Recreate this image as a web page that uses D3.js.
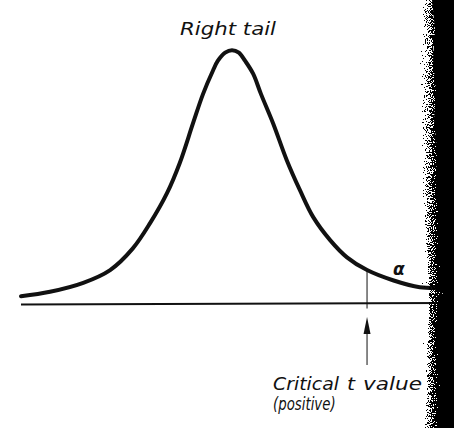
<!DOCTYPE html>
<html>
<head>
<meta charset="utf-8">
<script src="https://cdn.jsdelivr.net/npm/d3@7"></script>
<style>
  body { margin: 0; background: #fff; }
  text { font-family: "DejaVu Sans", sans-serif; font-style: italic; fill: #111; }
</style>
</head>
<body>
<div id="chart"></div>
<script>
const width = 454, height = 428;

// curve: t value and density height
const tValues = [-4.0, -3.45, -2.82, -2.31, -1.88, -1.55, -1.23, -0.99, -0.74, -0.55, -0.36, -0.27, -0.13, 0,
	0.13, 0.25, 0.40, 0.55, 0.78, 1.04, 1.29, 1.54, 1.86, 2.18, 2.56, 3.05, 3.56, 3.98];
const density = [0.013, 0.020, 0.034, 0.054, 0.088, 0.128, 0.175, 0.222, 0.284, 0.330, 0.367, 0.382, 0.395, 0.399,
	0.395, 0.382, 0.362, 0.330, 0.284, 0.226, 0.179, 0.137, 0.101, 0.074, 0.054, 0.038, 0.027, 0.026];
const criticalT = 2.56;
const criticalDensity = 0.054;
const labels = ["Right tail", "Critical t value", "(positive)", "α"];

// scanned page edge on the right (y, x) - decoration only
const edgeY = [0, 30, 60, 90, 120, 150, 180, 210, 240, 270, 300, 330, 360, 390, 428];
const edgeX = [430, 433, 431, 434, 432, 435, 434, 436, 438, 440, 441, 440, 438, 439, 437];

const svg = d3.select("#chart")
	.append("svg")
	.attr("width", width)
	.attr("height", height);

svg.append("rect").attr("width", width).attr("height", height).attr("fill", "#fff");

const x = d3.scaleLinear().domain([-4, 4]).range([21, 443]);
const y = d3.scaleLinear().domain([0, 0.4]).range([304.5, 49.5]);

const pts = tValues.map((t, i) => [t, density[i]]);

// baseline
svg.append("line")
	.attr("x1", x(-4)).attr("x2", x(4))
	.attr("y1", y(0)).attr("y2", y(0) - 1.5)
	.attr("stroke", "#111")
	.attr("stroke-width", 2);

// critical value line
svg.append("line")
	.attr("x1", x(criticalT)).attr("x2", x(criticalT))
	.attr("y1", y(criticalDensity)).attr("y2", y(0) + 4)
	.attr("stroke", "#111")
	.attr("stroke-width", 1);

// arrow below the axis
svg.append("line")
	.attr("x1", x(criticalT)).attr("x2", x(criticalT))
	.attr("y1", 330).attr("y2", 365)
	.attr("stroke", "#111")
	.attr("stroke-width", 1);
svg.append("path")
	.attr("d", `M${x(criticalT)},317 L${x(criticalT) - 3.5},334 L${x(criticalT) + 3.5},334 Z`)
	.attr("fill", "#111");

// the curve
const line = d3.line()
	.x(d => x(d[0]))
	.y(d => y(d[1]))
	.curve(d3.curveCatmullRom.alpha(0.5));

svg.append("path")
	.datum(pts)
	.attr("d", line)
	.attr("fill", "none")
	.attr("stroke", "#111")
	.attr("stroke-width", 4)
	.attr("stroke-linecap", "round");

// labels
svg.append("text")
	.attr("x", 180).attr("y", 35)
	.attr("font-size", 17)
	.attr("textLength", 96)
	.attr("lengthAdjust", "spacingAndGlyphs")
	.text(labels[0]);

// hand lettered words sit at their own spots
const wordX = [273, 347, 363];
const wordW = [66, 8, 59];
svg.selectAll(".crit")
	.data(labels[1].split(" "))
	.enter()
	.append("text")
	.attr("class", "crit")
	.attr("x", (d, i) => wordX[i]).attr("y", 390)
	.attr("font-size", 17)
	.attr("textLength", (d, i) => wordW[i])
	.attr("lengthAdjust", "spacingAndGlyphs")
	.text(d => d);

svg.append("text")
	.attr("transform", "translate(273,410) scale(0.74,1)")
	.attr("font-size", 18)
	.text(labels[2]);

svg.append("text")
	.attr("x", 393).attr("y", 275)
	.attr("font-size", 17)
	.attr("font-weight", "bold")
	.text(labels[3]);

// rough scan edge
const defs = svg.append("defs");
const grad = defs.append("linearGradient").attr("id", "fade")
	.attr("gradientUnits", "userSpaceOnUse")
	.attr("x1", 418).attr("x2", 442).attr("y1", 0).attr("y2", 0);
grad.append("stop").attr("offset", 0).attr("stop-color", "#000").attr("stop-opacity", 0);
grad.append("stop").attr("offset", 1).attr("stop-color", "#000").attr("stop-opacity", 1);

const f = defs.append("filter").attr("id", "speck")
	.attr("x", 0).attr("y", 0).attr("width", 1).attr("height", 1);
f.append("feTurbulence")
	.attr("type", "fractalNoise")
	.attr("baseFrequency", 0.9)
	.attr("numOctaves", 2)
	.attr("seed", 7)
	.attr("result", "noise");
f.append("feColorMatrix")
	.attr("in", "noise")
	.attr("type", "matrix")
	.attr("values", "0 0 0 0 0  0 0 0 0 0  0 0 0 0 0  1 0 0 0 0")
	.attr("result", "na");
f.append("feComposite")
	.attr("in", "SourceGraphic")
	.attr("in2", "na")
	.attr("operator", "arithmetic")
	.attr("k1", 0).attr("k2", 1).attr("k3", 1.6).attr("k4", -0.8)
	.attr("result", "mix");
const ct = f.append("feComponentTransfer").attr("in", "mix");
ct.append("feFuncA").attr("type", "discrete").attr("tableValues", "0 1");

const edgePath = (dx) => "M" + width + ",0 " +
	edgeY.map((v, i) => "L" + (edgeX[i] + dx) + "," + v).join(" ") +
	" L" + width + "," + height + " Z";

svg.append("path")
	.attr("d", edgePath(-12))
	.attr("fill", "url(#fade)")
	.attr("filter", "url(#speck)");
svg.append("path")
	.attr("d", edgePath(2))
	.attr("fill", "#000");
</script>
</body>
</html>
